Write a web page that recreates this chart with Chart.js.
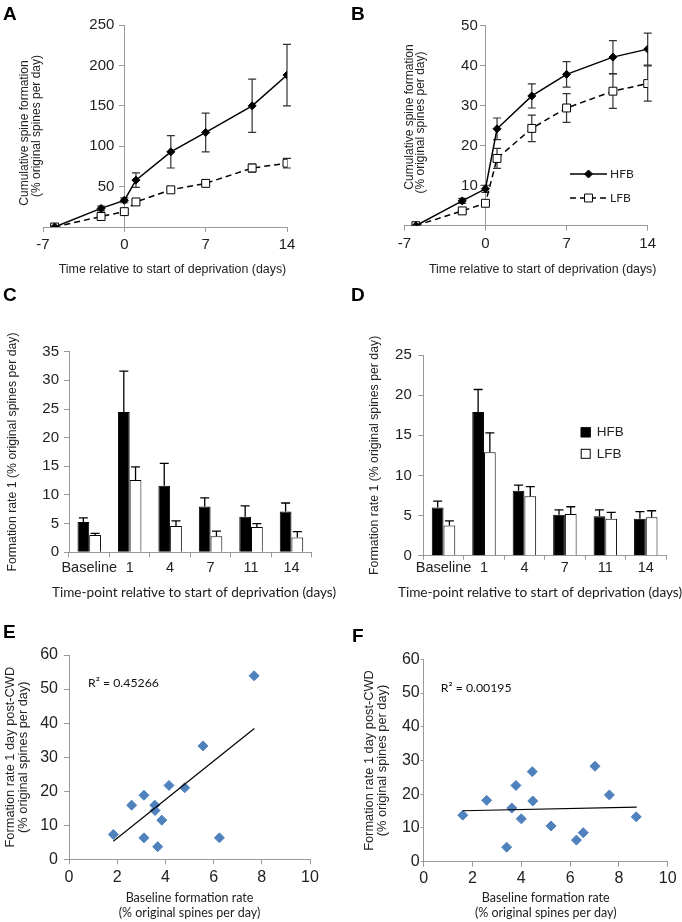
<!DOCTYPE html>
<html><head><meta charset="utf-8">
<script src="https://cdn.jsdelivr.net/npm/chart.js@4.4.1/dist/chart.umd.min.js"></script>
<style>
html,body{margin:0;padding:0;background:#fff;}
#wrap{position:relative;width:682px;height:922px;overflow:hidden;background:#fff;}
canvas{position:absolute;}
.lbl{position:absolute;font:bold 19px "Liberation Sans",Arial,sans-serif;line-height:19px;color:#000;z-index:2;}
</style></head><body>
<div id="wrap">
<canvas id="cA" width="341" height="290" style="left:0;top:0;width:341px;height:290px"></canvas>
<canvas id="cB" width="341" height="290" style="left:341px;top:0;width:341px;height:290px"></canvas>
<canvas id="cC" width="341" height="320" style="left:0;top:290px;width:341px;height:320px"></canvas>
<canvas id="cD" width="341" height="320" style="left:341px;top:290px;width:341px;height:320px"></canvas>
<canvas id="cE" width="341" height="312" style="left:0;top:610px;width:341px;height:312px"></canvas>
<canvas id="cF" width="341" height="312" style="left:341px;top:610px;width:341px;height:312px"></canvas>
<div class="lbl" style="left:3px;top:4px">A</div>
<div class="lbl" style="left:351px;top:4px">B</div>
<div class="lbl" style="left:3px;top:285px">C</div>
<div class="lbl" style="left:351px;top:285px">D</div>
<div class="lbl" style="left:3px;top:622px">E</div>
<div class="lbl" style="left:352px;top:626px">F</div>
</div>
<script>
// ---------------- DATA ----------------
const seriesNames = ['HFB', 'LFB'];
// Panels A & B: cumulative spine formation
const daysAB = [-6, -2, 0, 1, 4, 7, 11, 14];
const hfbA = [0, 23, 33, 58, 93, 117, 150, 188];
const hfbAErr = [0, 3, 3, 9, 20, 24, 33, 38];
const lfbA = [0, 13, 19, 31, 46, 54, 73, 79];
const lfbAErr = [0, 2, 2, 2, 2, 2, 5, 6];
const hfbB = [0, 6.2, 9.2, 24.2, 32.4, 37.8, 42.1, 44.1];
const hfbBErr = [0, 0.6, 0.9, 2.7, 3.0, 3.2, 4.1, 4.0];
const lfbB = [0, 3.7, 5.6, 16.8, 24.3, 29.4, 33.6, 35.5];
const lfbBErr = [0, 0.4, 0.6, 2.5, 3.3, 3.6, 4.3, 4.4];
const xTicksAB = [-7, 0, 7, 14];
// Panels C & D: formation rate per time-point
const timepoints = ['Baseline', '1', '4', '7', '11', '14'];
const hfbC = [5.3, 24.5, 11.6, 8.0, 6.2, 7.1];
const hfbCErr = [0.7, 7.1, 3.9, 1.5, 1.9, 1.5];
const lfbC = [3.0, 12.6, 4.6, 2.8, 4.4, 2.6];
const lfbCErr = [0.3, 2.3, 0.9, 0.9, 0.6, 1.0];
const hfbD = [6.0, 17.9, 8.1, 5.1, 4.9, 4.6];
const hfbDErr = [0.8, 2.8, 0.7, 0.6, 0.8, 0.9];
const lfbD = [3.75, 12.9, 7.4, 5.2, 4.6, 4.8];
const lfbDErr = [0.6, 2.4, 1.2, 0.9, 0.8, 0.8];
// Panels E & F: baseline vs day-1 formation rate
const eBaseline = [1.84, 2.60, 3.11, 3.11, 3.56, 3.57, 3.85, 3.68, 4.15, 4.80, 5.56, 6.24, 7.68];
const eDay1 = [7.3, 15.9, 18.8, 6.3, 15.9, 14.3, 11.5, 3.7, 21.7, 21.0, 33.3, 6.3, 53.9];
const eTrendX = [1.84, 7.69];
const eTrendY = [5.3, 38.4];
const eR2 = 'R\u00B2 = 0.45266';
const fBaseline = [1.60, 2.58, 3.40, 3.61, 3.78, 4.00, 4.45, 4.47, 5.22, 6.26, 6.54, 7.02, 7.61, 8.71];
const fDay1 = [13.8, 18.2, 4.3, 15.9, 22.6, 12.7, 26.7, 18.0, 10.6, 6.4, 8.6, 28.3, 19.8, 13.3];
const fTrendX = [1.60, 8.73];
const fTrendY = [15.1, 16.2];
const fR2 = 'R\u00B2 = 0.00195';

// ---------------- SETUP ----------------
const SANS = '"Liberation Sans", Arial, Helvetica, sans-serif';
const LATO = 'Lato, "Open Sans", sans-serif';
Chart.defaults.font.family = SANS;
Chart.defaults.color = '#222';
Chart.defaults.animation = false;
const pts = (xs, ys) => xs.map((x, i) => ({x: x, y: ys[i]}));
const AXIS = '#999';

const errorBarsPlugin = {
  id: 'errorBars',
  draw(chart, o) {
    const ctx = chart.ctx;
    chart.data.datasets.forEach((ds, i) => {
      if (!ds.errors) return;
      const meta = chart.getDatasetMeta(i);
      const ys = chart.scales[meta.yAxisID];
      meta.data.forEach((el, j) => {
        const err = ds.errors[j];
        if (!err) return;
        const raw = ds.data[j];
        const v = typeof raw === 'object' ? raw.y : raw;
        const x = el.x;
        const top = ys.getPixelForValue(v + err);
        const bot = o.upOnly ? el.y : ys.getPixelForValue(v - err);
        ctx.save();
        ctx.strokeStyle = o.color; ctx.lineWidth = o.width;
        ctx.beginPath();
        ctx.moveTo(x, bot); ctx.lineTo(x, top);
        ctx.moveTo(x - o.cap, top); ctx.lineTo(x + o.cap, top);
        if (!o.upOnly) { ctx.moveTo(x - o.cap, bot); ctx.lineTo(x + o.cap, bot); }
        ctx.stroke();
        ctx.restore();
      });
    });
  },
  beforeDatasetsDraw(chart, a, o) { if (o.before) this.draw(chart, o); },
  afterDatasetsDraw(chart, a, o) { if (!o.before) this.draw(chart, o); }
};

const textsPlugin = {
  id: 'texts',
  afterDraw(chart, a, o) {
    const ctx = chart.ctx;
    (o.items || []).forEach(it => {
      ctx.save();
      ctx.font = it.font; ctx.fillStyle = it.color || '#222';
      ctx.textAlign = it.align || 'center'; ctx.textBaseline = 'middle';
      ctx.translate(it.x, it.y);
      if (it.rotate) ctx.rotate(it.rotate);
      ctx.fillText(it.text, 0, 0);
      ctx.restore();
    });
  }
};

const insideLegendPlugin = {
  id: 'insideLegend',
  afterDraw(chart, a, o) {
    if (!o.display) return;
    const ctx = chart.ctx;
    chart.data.datasets.forEach((ds, i) => {
      const y = o.y + i * o.rowGap;
      ctx.save();
      if (o.kind === 'line') {
        const cx = o.x + o.sample / 2;
        ctx.strokeStyle = ds.borderColor; ctx.lineWidth = ds.borderWidth;
        ctx.setLineDash(ds.borderDash || []);
        ctx.beginPath(); ctx.moveTo(o.x, y); ctx.lineTo(o.x + o.sample, y); ctx.stroke();
        ctx.setLineDash([]);
        const r = ds.pointRadius;
        ctx.fillStyle = ds.pointBackgroundColor; ctx.strokeStyle = ds.pointBorderColor; ctx.lineWidth = 1;
        ctx.beginPath();
        if (ds.pointStyle === 'rectRot') {
          ctx.moveTo(cx, y - r); ctx.lineTo(cx + r, y); ctx.lineTo(cx, y + r); ctx.lineTo(cx - r, y); ctx.closePath();
        } else {
          const h = r * Math.SQRT1_2; ctx.rect(cx - h, y - h, 2 * h, 2 * h);
        }
        ctx.fill(); ctx.stroke();
        ctx.fillStyle = '#222'; ctx.font = o.font; ctx.textAlign = 'left'; ctx.textBaseline = 'middle';
        ctx.fillText(ds.label, o.x + o.sample + o.gap, y);
      } else {
        const s = o.box;
        ctx.fillStyle = ds.backgroundColor; ctx.strokeStyle = ds.borderColor; ctx.lineWidth = 1;
        ctx.fillRect(o.x - s / 2, y - s / 2, s, s);
        ctx.strokeRect(o.x - s / 2 + 0.5, y - s / 2 + 0.5, s - 1, s - 1);
        ctx.fillStyle = '#222'; ctx.font = o.font; ctx.textAlign = 'left'; ctx.textBaseline = 'middle';
        ctx.fillText(ds.label, o.x + s / 2 + o.gap, y);
      }
      ctx.restore();
    });
  }
};

// ---------------- LINE PANELS (A, B) ----------------
function linePanel(id, hfb, hfbErr, lfb, lfbErr, yMax, yStep, lay, texts, legend) {
  new Chart(document.getElementById(id), {
    type: 'line',
    data: {datasets: [
      {label: seriesNames[0], data: pts(daysAB, hfb), errors: hfbErr, borderColor: '#000', backgroundColor: '#000',
       borderWidth: 1.5, pointStyle: 'rectRot', pointRadius: 4, pointBackgroundColor: '#000', pointBorderColor: '#000', pointBorderWidth: 1},
      {label: seriesNames[1], data: pts(daysAB, lfb), errors: lfbErr, borderColor: '#000', backgroundColor: '#fff',
       borderWidth: 1.5, borderDash: [6, 4], pointStyle: 'rect', pointRadius: 5.6, pointBackgroundColor: '#fff', pointBorderColor: '#000', pointBorderWidth: 1}
    ]},
    options: {
      responsive: false,
      layout: {padding: {left: lay.left, right: lay.right, top: lay.top, bottom: 0}},
      scales: {
        x: {type: 'linear', min: xTicksAB[0], max: xTicksAB[xTicksAB.length - 1],
            afterBuildTicks: s => { s.ticks = xTicksAB.map(v => ({value: v})); },
            ticks: {font: {size: 15}, padding: 4, color: '#222'},
            grid: {drawOnChartArea: false, tickLength: 5, color: AXIS}, border: {color: AXIS},
            afterFit: s => { s.height = lay.xh; }},
        // axis line and tick marks, crossing at day 0
        y: {type: 'linear', position: {x: 0}, min: 0, max: yMax,
            ticks: {stepSize: yStep, display: false},
            grid: {drawOnChartArea: false, tickLength: 5, color: AXIS}, border: {color: AXIS}},
        // tick labels, set just left of the crossing axis
        yLabels: {type: 'linear', axis: 'y', position: {x: lay.lblX}, min: 0, max: yMax,
            ticks: {stepSize: yStep, font: {size: 15}, color: '#222', callback: v => v === 0 ? '' : v},
            grid: {display: false}, border: {display: false}}
      },
      plugins: {
        legend: {display: false}, tooltip: {enabled: false},
        errorBars: {color: '#333', width: 1.2, cap: 4, before: true},
        texts: {items: texts},
        insideLegend: legend
      }
    },
    plugins: [errorBarsPlugin, textsPlugin, insideLegendPlugin]
  });
}
const titleFont = '12.4px ' + SANS;
const yTitleFont = '12px ' + SANS;
linePanel('cA', hfbA, hfbAErr, lfbA, lfbAErr, 250, 50, {left: 43, right: 54, top: 25, xh: 63, lblX: -0.86}, [
  {text: 'Time relative to start of deprivation (days)', x: 172.5, y: 270, font: titleFont},
  {text: 'Cumulative spine formation', x: 25, y: 133, rotate: -Math.PI / 2, font: yTitleFont},
  {text: '(% original spines per day)', x: 36.7, y: 126, rotate: -Math.PI / 2, font: yTitleFont}
], {display: false});
linePanel('cB', hfbB, hfbBErr, lfbB, lfbBErr, 50, 10, {left: 63.3, right: 34.3, top: 25.5, xh: 64.3, lblX: -0.66}, [
  {text: 'Time relative to start of deprivation (days)', x: 201.7, y: 270, font: titleFont},
  {text: 'Cumulative spine formation', x: 68.3, y: 117, rotate: -Math.PI / 2, font: yTitleFont},
  {text: '(% original spines per day)', x: 80, y: 122.5, rotate: -Math.PI / 2, font: yTitleFont}
], {display: true, kind: 'line', x: 229, y: 174, rowGap: 24, sample: 37, gap: 3, font: '12px ' + LATO});

// ---------------- BAR PANELS (C, D) ----------------
const barXTitle = 'Time-point relative to start of deprivation (days)';
function barPanel(id, hfb, hfbErr, lfb, lfbErr, yMax, lay, legend) {
  new Chart(document.getElementById(id), {
    type: 'bar',
    data: {labels: timepoints, datasets: [
      {label: seriesNames[0], data: hfb, errors: hfbErr, backgroundColor: '#000', borderColor: '#000', borderWidth: 1},
      {label: seriesNames[1], data: lfb, errors: lfbErr, backgroundColor: '#fff', borderColor: '#000', borderWidth: 1}
    ]},
    options: {
      responsive: false,
      layout: {padding: {left: 0, right: lay.right, top: lay.top, bottom: 0}},
      datasets: {bar: {categoryPercentage: 0.58, barPercentage: 1.0}},
      scales: {
        x: {type: 'category', offset: true,
            ticks: {font: {size: 14.5}, color: '#222', padding: lay.xpad, maxRotation: 0, minRotation: 0, autoSkip: false},
            grid: {offset: true, drawOnChartArea: false, tickLength: lay.xtl, color: AXIS}, border: {color: AXIS},
            afterFit: s => { s.height = lay.xh; }},
        y: {min: 0, max: yMax,
            ticks: {stepSize: 5, font: {size: 15}, color: '#222', padding: lay.ypad},
            grid: {drawOnChartArea: false, tickLength: 5, color: AXIS}, border: {color: AXIS},
            title: {display: true, text: 'Formation rate 1 (% original spines per day)', color: '#222',
                    font: {size: 12.3}, padding: {top: lay.ytp, bottom: 0}},
            afterFit: s => { s.width = lay.yw; }}
      },
      plugins: {
        legend: {display: false}, tooltip: {enabled: false},
        errorBars: {color: '#000', width: 1.3, cap: 4.5, upOnly: true, before: false},
        texts: {items: [{text: barXTitle, x: lay.titleX, y: 303, font: '13.6px ' + LATO, color: '#1a1a1a'}]},
        insideLegend: legend
      }
    },
    plugins: [errorBarsPlugin, textsPlugin, insideLegendPlugin]
  });
}
barPanel('cC', hfbC, hfbCErr, lfbC, lfbCErr, 35,
  {right: 29.3, top: 61.7, xh: 57.7, yw: 69, ytp: 5.6, ypad: 5, xpad: 2, xtl: 5, titleX: 194}, {display: false});
barPanel('cD', hfbD, hfbDErr, lfbD, lfbDErr, 25,
  {right: 16, top: 65, xh: 54.3, yw: 82.3, ytp: 26, ypad: 6.5, xpad: 0, xtl: 4, titleX: 199},
  {display: true, kind: 'box', x: 244.7, y: 142.3, rowGap: 21.5, box: 10, gap: 6, font: '13.5px ' + SANS});

// ---------------- SCATTER PANELS (E, F) ----------------
function scatterPanel(id, bx, by, tx, ty, r2, lay) {
  new Chart(document.getElementById(id), {
    type: 'scatter',
    data: {datasets: [
      {label: 'Trend', type: 'line', data: pts(tx, ty), showLine: true, pointRadius: 0, borderColor: '#000', borderWidth: 1.2, fill: false},
      {label: 'Animals', data: pts(bx, by), pointStyle: 'rectRot', pointRadius: 5, backgroundColor: '#4F81BD', borderColor: '#4F81BD', pointBorderWidth: 1}
    ]},
    options: {
      responsive: false,
      layout: {padding: {left: 0, right: lay.right, top: lay.top, bottom: 0}},
      scales: {
        x: {type: 'linear', min: 0, max: 10,
            ticks: {stepSize: 2, font: {size: 16}, color: '#222', padding: lay.xpad},
            grid: {drawOnChartArea: false, tickLength: 5, color: AXIS}, border: {color: AXIS},
            title: {display: true, text: ['Baseline formation rate', '(% original spines per day)'], color: '#222',
                    font: {family: LATO, size: 12.5, lineHeight: 1.2}, padding: {top: 0, bottom: 1.5}},
            afterFit: s => { s.height = lay.xh; }},
        y: {type: 'linear', min: 0, max: 60,
            ticks: {stepSize: 10, font: {size: 16}, color: '#222', padding: lay.ypad},
            grid: {drawOnChartArea: false, tickLength: lay.ytl, color: AXIS}, border: {color: AXIS},
            title: {display: true, text: ['Formation rate 1 day post-CWD', '(% original spines per day)'], color: '#222',
                    font: {size: 12.8, lineHeight: 1.04}, padding: {top: lay.ytp, bottom: 0}},
            afterFit: s => { s.width = lay.yw; }}
      },
      plugins: {
        legend: {display: false}, tooltip: {enabled: false},
        texts: {items: [{text: r2, x: lay.r2x, y: lay.r2y, align: 'left', font: '12.3px ' + LATO, color: '#111'}]}
      }
    },
    plugins: [textsPlugin]
  });
}
scatterPanel('cE', eBaseline, eDay1, eTrendX, eTrendY, eR2,
  {right: 31, top: 45, xh: 62.7, yw: 69, ytp: 3.35, ypad: 6, ytl: 5, xpad: 4, r2x: 88, r2y: 73});
scatterPanel('cF', fBaseline, fDay1, fTrendX, fTrendY, fR2,
  {right: 14.3, top: 49.3, xh: 60.3, yw: 82.7, ytp: 21.65, ypad: 1, ytl: 3, xpad: 2, r2x: 99.7, r2y: 78.5});
</script>
</body></html>
